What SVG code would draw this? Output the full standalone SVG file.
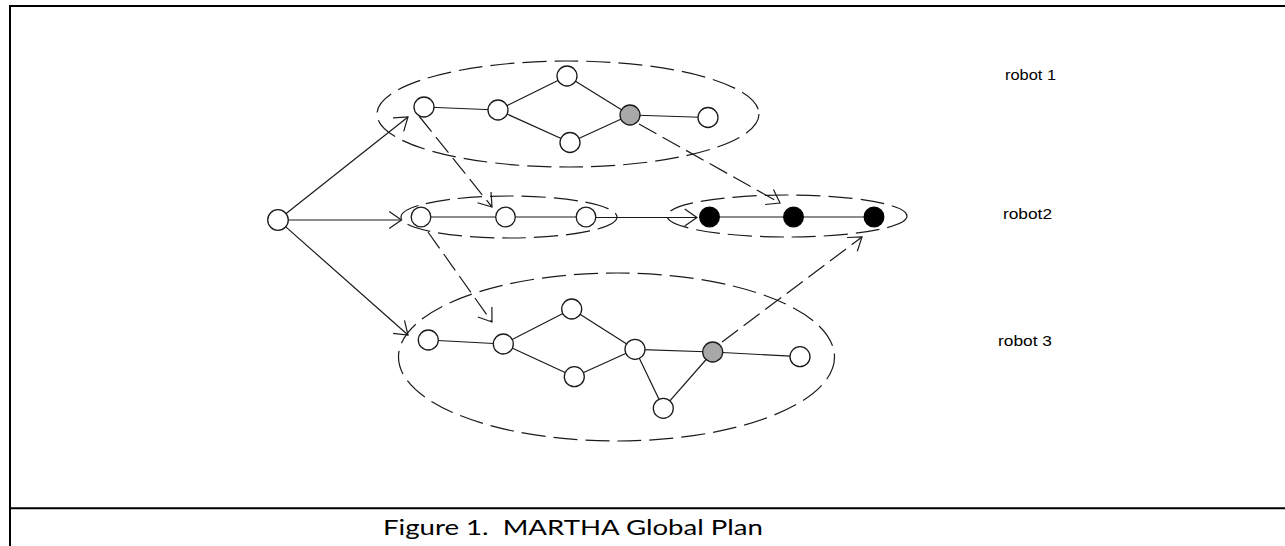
<svg xmlns="http://www.w3.org/2000/svg" width="1285" height="546" viewBox="0 0 1285 546">
<style>
.frame{stroke:#000;stroke-width:2;fill:none}
.cluster{fill:none;stroke:#1a1a1a;stroke-width:1.2;stroke-dasharray:24 8}
.edge{stroke:#1a1a1a;stroke-width:1.2;fill:none}
.dash{stroke:#1a1a1a;stroke-width:1.2;fill:none;stroke-dasharray:20 7}
.node{fill:#fff;stroke:#1a1a1a;stroke-width:1.3}
.gray{fill:#a8a8a8;stroke:#1a1a1a;stroke-width:1.3}
.black{fill:#000;stroke:#000;stroke-width:1.3}
.lbl{font-family:"Liberation Sans",Arial,sans-serif;font-size:15px;fill:#000}
.cap{font-family:Lato,"Open Sans",sans-serif;font-size:22px;fill:#000}
</style>
<defs>
<marker id="arr" markerUnits="userSpaceOnUse" viewBox="-16 -11 18 22" markerWidth="18" markerHeight="22" refX="0" refY="0" orient="auto" overflow="visible">
<path d="M-12.3,-8.6 L0,0 L-12.3,8.6" fill="none" stroke="#1a1a1a" stroke-width="1.2"/>
</marker>
</defs>
<rect width="1285" height="546" fill="#fff"/>
<g id="frame">
<line class="frame" x1="10" y1="6" x2="1285" y2="6"/>
<line class="frame" x1="10" y1="5" x2="10" y2="546"/>
<line class="frame" x1="10" y1="508.3" x2="1285" y2="508.3"/>
</g>
<g id="clusters">
<ellipse id="cluster-robot1" class="cluster" cx="568" cy="114" rx="191" ry="53"/>
<ellipse id="cluster-robot2a" class="cluster" cx="509" cy="217" rx="108" ry="21"/>
<ellipse id="cluster-robot2b" class="cluster" cx="787" cy="216" rx="120" ry="21"/>
<ellipse id="cluster-robot3" class="cluster" cx="616.5" cy="357" rx="218" ry="84"/>
</g>
<g id="connectors">
<line class="edge" x1="424" y1="107" x2="498" y2="110"/>
<line class="edge" x1="498" y1="110" x2="567" y2="76"/>
<line class="edge" x1="498" y1="110" x2="570" y2="142.5"/>
<line class="edge" x1="567" y1="76" x2="630" y2="115"/>
<line class="edge" x1="570" y1="142.5" x2="630" y2="115"/>
<line class="edge" x1="630" y1="115" x2="708" y2="117.5"/>
<line class="edge" x1="421" y1="217" x2="586" y2="217"/>
<line class="edge" x1="709.5" y1="217" x2="874" y2="217"/>
<line class="edge" x1="596" y1="217.5" x2="697" y2="217.5" marker-end="url(#arr)"/>
<line class="edge" x1="428.3" y1="340" x2="503.3" y2="344"/>
<line class="edge" x1="503.3" y1="344" x2="571.7" y2="309"/>
<line class="edge" x1="503.3" y1="344" x2="574.3" y2="376.7"/>
<line class="edge" x1="571.7" y1="309" x2="635" y2="349.3"/>
<line class="edge" x1="574.3" y1="376.7" x2="635" y2="349.3"/>
<line class="edge" x1="635" y1="349.3" x2="712.7" y2="352"/>
<line class="edge" x1="712.7" y1="352" x2="800" y2="356.7"/>
<line class="edge" x1="635" y1="349.3" x2="663.3" y2="408.3"/>
<line class="edge" x1="663.3" y1="408.3" x2="712.7" y2="352"/>
<line class="edge" x1="285.8" y1="213.8" x2="408" y2="117" marker-end="url(#arr)"/>
<line class="edge" x1="288.5" y1="220" x2="401.5" y2="220" marker-end="url(#arr)"/>
<line class="edge" x1="285.5" y1="226.6" x2="408" y2="335" marker-end="url(#arr)"/>
<line class="dash" x1="419" y1="116" x2="492" y2="207" marker-end="url(#arr)"/>
<line class="dash" x1="639" y1="124" x2="780" y2="203" marker-end="url(#arr)"/>
<line class="dash" x1="428" y1="232" x2="492" y2="322" marker-end="url(#arr)"/>
<line class="dash" x1="722" y1="342" x2="862" y2="237" marker-end="url(#arr)"/>
</g>
<g id="node-start"><circle class="node" cx="278" cy="220" r="10.3"/></g>
<g id="robot1-nodes">
<circle id="r1n1" class="node" cx="424" cy="107" r="10"/>
<circle id="r1n2" class="node" cx="498" cy="110" r="10"/>
<circle id="r1n3" class="node" cx="567" cy="76" r="10"/>
<circle id="r1n4" class="node" cx="570" cy="142.5" r="10"/>
<circle id="r1n5" class="gray" cx="630" cy="115" r="10"/>
<circle id="r1n6" class="node" cx="708" cy="117.5" r="10"/>
</g>
<g id="robot2-nodes">
<circle id="r2n1" class="node" cx="421" cy="217" r="9.8"/>
<circle id="r2n2" class="node" cx="505.5" cy="217" r="9.8"/>
<circle id="r2n3" class="node" cx="586" cy="217" r="9.8"/>
<circle id="r2n4" class="black" cx="709.5" cy="217" r="9.8"/>
<circle id="r2n5" class="black" cx="793.5" cy="217" r="9.8"/>
<circle id="r2n6" class="black" cx="874" cy="217" r="9.8"/>
</g>
<g id="robot3-nodes">
<circle id="r3n1" class="node" cx="428.3" cy="340" r="10"/>
<circle id="r3n2" class="node" cx="503.3" cy="344" r="10"/>
<circle id="r3n3" class="node" cx="571.7" cy="309" r="10"/>
<circle id="r3n4" class="node" cx="574.3" cy="376.7" r="10"/>
<circle id="r3n5" class="node" cx="635" cy="349.3" r="10"/>
<circle id="r3n6" class="gray" cx="712.7" cy="352" r="10"/>
<circle id="r3n7" class="node" cx="800" cy="356.7" r="10"/>
<circle id="r3n8" class="node" cx="663.3" cy="408.3" r="10"/>
</g>
<g id="labels">
<text class="lbl" x="1005" y="80" textLength="51" lengthAdjust="spacingAndGlyphs">robot 1</text>
<text class="lbl" x="1003" y="219" textLength="49" lengthAdjust="spacingAndGlyphs">robot2</text>
<text class="lbl" x="998" y="346" textLength="54" lengthAdjust="spacingAndGlyphs">robot 3</text>
<text class="cap" x="383" y="535" textLength="380" lengthAdjust="spacingAndGlyphs" xml:space="preserve">Figure 1.  MARTHA Global Plan</text>
</g>
</svg>
